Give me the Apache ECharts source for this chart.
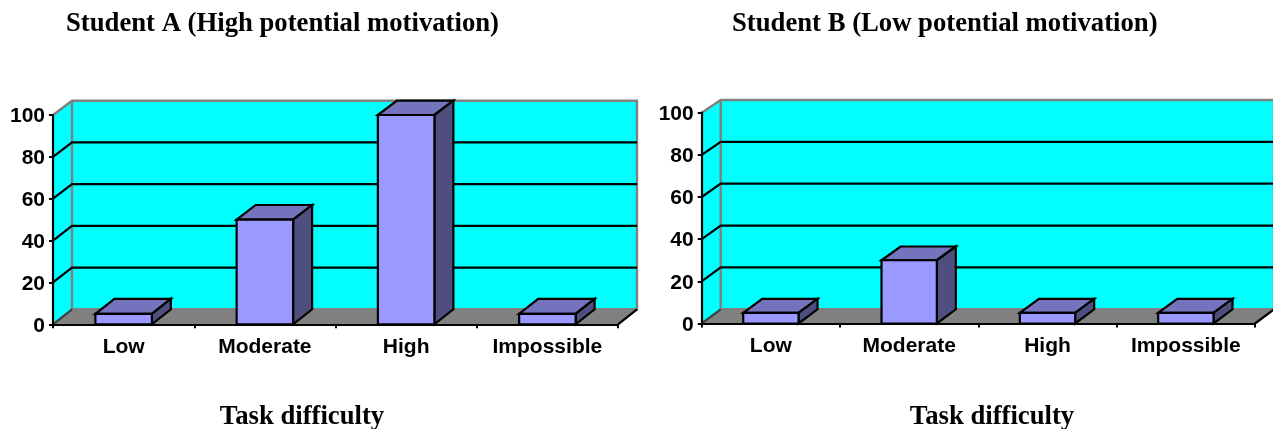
<!DOCTYPE html>
<html>
<head>
<meta charset="utf-8">
<style>html,body{margin:0;padding:0;background:#fff}#chart{width:1273px;height:429px}</style>
<script src="https://cdn.jsdelivr.net/npm/echarts@6/dist/echarts.min.js"></script>
</head>
<body>
<div id="chart"></div>
<script>
// Task difficulty categories and value scale shared by both panels
const categories = ['Low', 'Moderate', 'High', 'Impossible'];
const valueTicks = [20, 40, 60, 80];
const studentAValues = [5, 50, 100, 5];
const studentBValues = [5, 30, 5, 5];
const studentATitle = 'Student A (High potential motivation)';
const studentBTitle = 'Student B (Low potential motivation)';
const xAxisTitle = 'Task difficulty';

// Oblique projection of each panel: depth in px, at value 0 and at value 100
const panels = [
  { values: studentAValues, grid: { left: 53, top: 115, width: 565, height: 209.3 }, dx: 19, dy0: 15, dy100: 14.3 },
  { values: studentBValues, grid: { left: 701.7, top: 112.7, width: 553.3, height: 210.8 }, dx: 19, dy0: 14.2, dy100: 12.7 }
];

const AXIS = '#000000', WALL = '#00FFFF', FLOOR = '#808080', EDGE = '#808080';
const FRONT = '#9999FF', TOP = '#7474BE', SIDE = '#4F4F7F';
const LINE_W = 2.2;
const sans = '"Liberation Sans", Arial, sans-serif';
const serif = '"Liberation Serif", "Times New Roman", serif';

const depthAt = (p, v) => p.dy0 + (p.dy100 - p.dy0) * v / 100;
const line = (points, color, width) => ({
  type: 'polyline', shape: { points }, style: { fill: null, stroke: color, lineWidth: width || LINE_W }
});
const poly = (points, fill, stroke) => ({
  type: 'polygon', shape: { points }, style: { fill, stroke: stroke || null, lineWidth: LINE_W, lineJoin: 'miter' }
});

// Back wall, side wall and floor of the box, spanning the whole category band
function renderBox(p) {
  return (params, api) => {
    const band = api.size([1, 0])[0];
    const x0 = api.coord([0, 0])[0] - band / 2;
    const x1 = x0 + band * categories.length;
    const yBase = api.coord([0, 0])[1];
    const yTop = api.coord([0, 100])[1];
    const bx0 = x0 + p.dx, bx1 = x1 + p.dx;
    const bBase = yBase - p.dy0, bTop = yTop - p.dy100;
    return {
      type: 'group',
      children: [
        poly([[bx0, bTop], [bx1, bTop], [bx1, bBase], [bx0, bBase]], WALL),
        poly([[x0, yTop], [bx0, bTop], [bx0, bBase], [x0, yBase]], WALL),
        poly([[x0, yBase], [bx0, bBase], [bx1, bBase], [x1, yBase]], FLOOR),
        line([[x0, yTop], [bx0, bTop], [bx1, bTop], [bx1, bBase], [bx0, bBase], [bx0, bTop]], EDGE, 2.4),
        line([[x0, yBase], [bx0, bBase]], '#404040'),
        line([[x1, yBase], [bx1, bBase]], AXIS)
      ]
    };
  };
}

// Gridline wrapped around the side and back walls at one value
function renderGridline(p) {
  return (params, api) => {
    const v = api.value(1);
    const band = api.size([1, 0])[0];
    const [cx, y] = api.coord([0, v]);
    const x0 = cx - band / 2;
    const d = depthAt(p, v);
    return line([[x0, y], [x0 + p.dx, y - d], [x0 + band * categories.length + p.dx, y - d]], AXIS);
  };
}

// Prism bar: front face, top face and right side face
function renderBar(p) {
  return (params, api) => {
    const [cx, yVal] = api.coord([api.value(0), api.value(1)]);
    const yBase = api.coord([api.value(0), 0])[1];
    const w = api.size([1, 0])[0] * 0.4;
    const l = cx - w / 2, r = cx + w / 2;
    const dTop = depthAt(p, api.value(1));
    return {
      type: 'group',
      children: [
        poly([[l, yVal], [l + p.dx, yVal - dTop], [r + p.dx, yVal - dTop], [r, yVal]], TOP, AXIS),
        poly([[r, yVal], [r + p.dx, yVal - dTop], [r + p.dx, yBase - p.dy0], [r, yBase]], SIDE, AXIS),
        poly([[l, yVal], [r, yVal], [r, yBase], [l, yBase]], FRONT, AXIS)
      ]
    };
  };
}

const grids = panels.map(p => p.grid);
const xAxes = panels.map((p, i) => ({
  type: 'category', gridIndex: i, data: categories, z: 5,
  axisLine: { lineStyle: { color: AXIS, width: 2.2 } },
  axisTick: { show: true, length: 4, lineStyle: { color: AXIS, width: 2 } },
  axisLabel: { color: '#000', fontFamily: sans, fontWeight: 'bold', fontSize: 21, margin: 12, interval: 0 }
}));
const yAxes = panels.map((p, i) => ({
  type: 'value', gridIndex: i, min: 0, max: 100, interval: 20, z: 5,
  axisLine: { show: true, lineStyle: { color: AXIS, width: 2.2 } },
  axisTick: { show: true, length: 4, lineStyle: { color: AXIS, width: 2 } },
  splitLine: { show: false },
  // Digits sit a little below the tick, centred on the tick's optical line
  axisLabel: { color: '#000', fontFamily: sans, fontWeight: 'bold', fontSize: 21, margin: 8, verticalAlign: 'top', lineHeight: 3 }
}));

const series = [];
panels.forEach((p, i) => {
  const axes = { coordinateSystem: 'cartesian2d', xAxisIndex: i, yAxisIndex: i, encode: { x: 0, y: 1 }, silent: true, clip: false };
  series.push({ type: 'custom', name: 'walls', z: 1, data: [[0, 0]], renderItem: renderBox(p), ...axes });
  series.push({ type: 'custom', name: 'gridlines', z: 2, data: valueTicks.map(v => [0, v]), renderItem: renderGridline(p), ...axes });
  series.push({ type: 'custom', name: 'bars', z: 6, data: p.values.map((v, k) => [k, v]), renderItem: renderBar(p), ...axes });
});

const titleStyle = { color: '#000', fontFamily: serif, fontWeight: 'bold', fontSize: 26.7 };
const title = [
  { text: studentATitle, left: 66, top: 11, padding: 0, textStyle: titleStyle },
  { text: studentBTitle, left: 732, top: 11, padding: 0, textStyle: titleStyle },
  { text: xAxisTitle, left: 302, top: 404, padding: 0, textAlign: 'center', textStyle: titleStyle },
  { text: xAxisTitle, left: 992, top: 404, padding: 0, textAlign: 'center', textStyle: titleStyle }
];

const chart = echarts.init(document.getElementById('chart'), null, { renderer: 'canvas' });
chart.setOption({ animation: false, backgroundColor: '#fff', title, grid: grids, xAxis: xAxes, yAxis: yAxes, series, tooltip: { show: false } });
</script>
</body>
</html>
